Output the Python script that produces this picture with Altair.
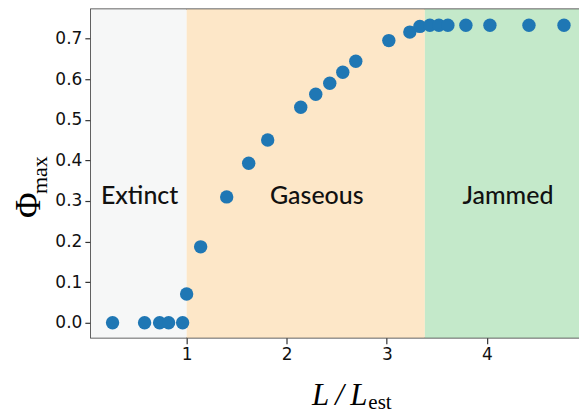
import altair as alt
import pandas as pd

# data
ratio = [0.26, 0.58, 0.73, 0.82, 0.96, 1.00, 1.14, 1.40, 1.62, 1.81, 2.14, 2.29, 2.43,
         2.56, 2.69, 3.02, 3.23, 3.33, 3.43, 3.52, 3.61, 3.79, 4.03, 4.42, 4.77]
phi = [0.0, 0.0, 0.0, 0.0, 0.0, 0.071, 0.187, 0.310, 0.393, 0.450, 0.531, 0.563, 0.590,
       0.617, 0.644, 0.695, 0.716, 0.730, 0.733, 0.733, 0.733, 0.733, 0.733, 0.733, 0.733]

region_names = ["Extinct", "Gaseous", "Jammed"]
region_start = [0.043, 1.0, 3.38]
region_end = [1.0, 3.38, 4.92]
region_colors = ["#f6f7f7", "#fde7c8", "#c4e9ca"]
label_x = [0.53, 2.30, 4.21]
label_y = [0.313, 0.313, 0.313]

x_ticks = [1, 2, 3, 4]
y_ticks = [0, 0.1, 0.2, 0.3, 0.4, 0.5, 0.6, 0.7]

XDOM = [0.043, 4.92]
YDOM = [-0.037, 0.772]
W, H = 489, 329

pts = pd.DataFrame({"x": ratio, "y": phi})
regions = pd.DataFrame({"name": region_names, "x0": region_start, "x1": region_end,
                        "color": region_colors, "lx": label_x, "ly": label_y})

xscale = alt.Scale(domain=XDOM, nice=False, zero=False)
yscale = alt.Scale(domain=YDOM, nice=False, zero=False)

bands = alt.Chart(regions).mark_rect(opacity=1).encode(
    x=alt.X("x0:Q", scale=xscale),
    x2="x1:Q",
    y=alt.value(0),
    y2=alt.value(H),
    color=alt.Color("color:N", scale=None),
)

labels = alt.Chart(regions).mark_text(
    font="Lato", fontSize=25, fontWeight=500, color="#111111",
    align="center", baseline="middle",
).encode(
    x=alt.X("lx:Q", scale=xscale),
    y=alt.Y("ly:Q", scale=yscale),
    text="name:N",
)

points = alt.Chart(pts).mark_circle(size=180, opacity=1, color="#1f77b4").encode(
    x=alt.X("x:Q", scale=xscale,
            axis=alt.Axis(values=x_ticks, format="d", title=None)),
    y=alt.Y("y:Q", scale=yscale,
            axis=alt.Axis(values=y_ticks, format=".1f", title=None)),
)

one = pd.DataFrame({"a": [0]})
SERIF = "Liberation Serif"

# x axis title: italic L/L with upright subscript "est"
xt_main = alt.Chart(one).mark_text(
    text="L\u2009/\u2009L", font=SERIF, fontStyle="italic", fontSize=31, color="#000",
    align="right", baseline="alphabetic",
).encode(x=alt.value(277), y=alt.value(396))
xt_sub = alt.Chart(one).mark_text(
    text="est", font=SERIF, fontSize=21, color="#000",
    align="left", baseline="alphabetic",
).encode(x=alt.value(278), y=alt.value(400))

# y axis title: Phi with subscript "max", rotated
yt_main = alt.Chart(one).mark_text(
    text="Φ", font=SERIF, fontSize=35, color="#000", angle=270,
    align="left", baseline="alphabetic",
).encode(x=alt.value(-51), y=alt.value(209))
yt_sub = alt.Chart(one).mark_text(
    text="max", font=SERIF, fontSize=22, color="#000", angle=270,
    align="left", baseline="alphabetic",
).encode(x=alt.value(-44), y=alt.value(185))

chart = alt.layer(bands, labels, points, xt_main, xt_sub, yt_main, yt_sub).properties(
    width=W, height=H,
    padding={"left": 91, "top": 9, "right": 0, "bottom": 82},
    autosize=alt.AutoSizeParams(type="none"),
).configure_view(
    stroke="#333333", strokeWidth=1.5,
).configure_axis(
    grid=False, domain=False, tickSize=6, tickWidth=1.2, tickColor="#333333",
    labelFont="DejaVu Sans", labelFontSize=17, labelColor="#111111", labelPadding=3,
)

chart.save("out.html", embed_options={"renderer": "svg", "actions": False})
